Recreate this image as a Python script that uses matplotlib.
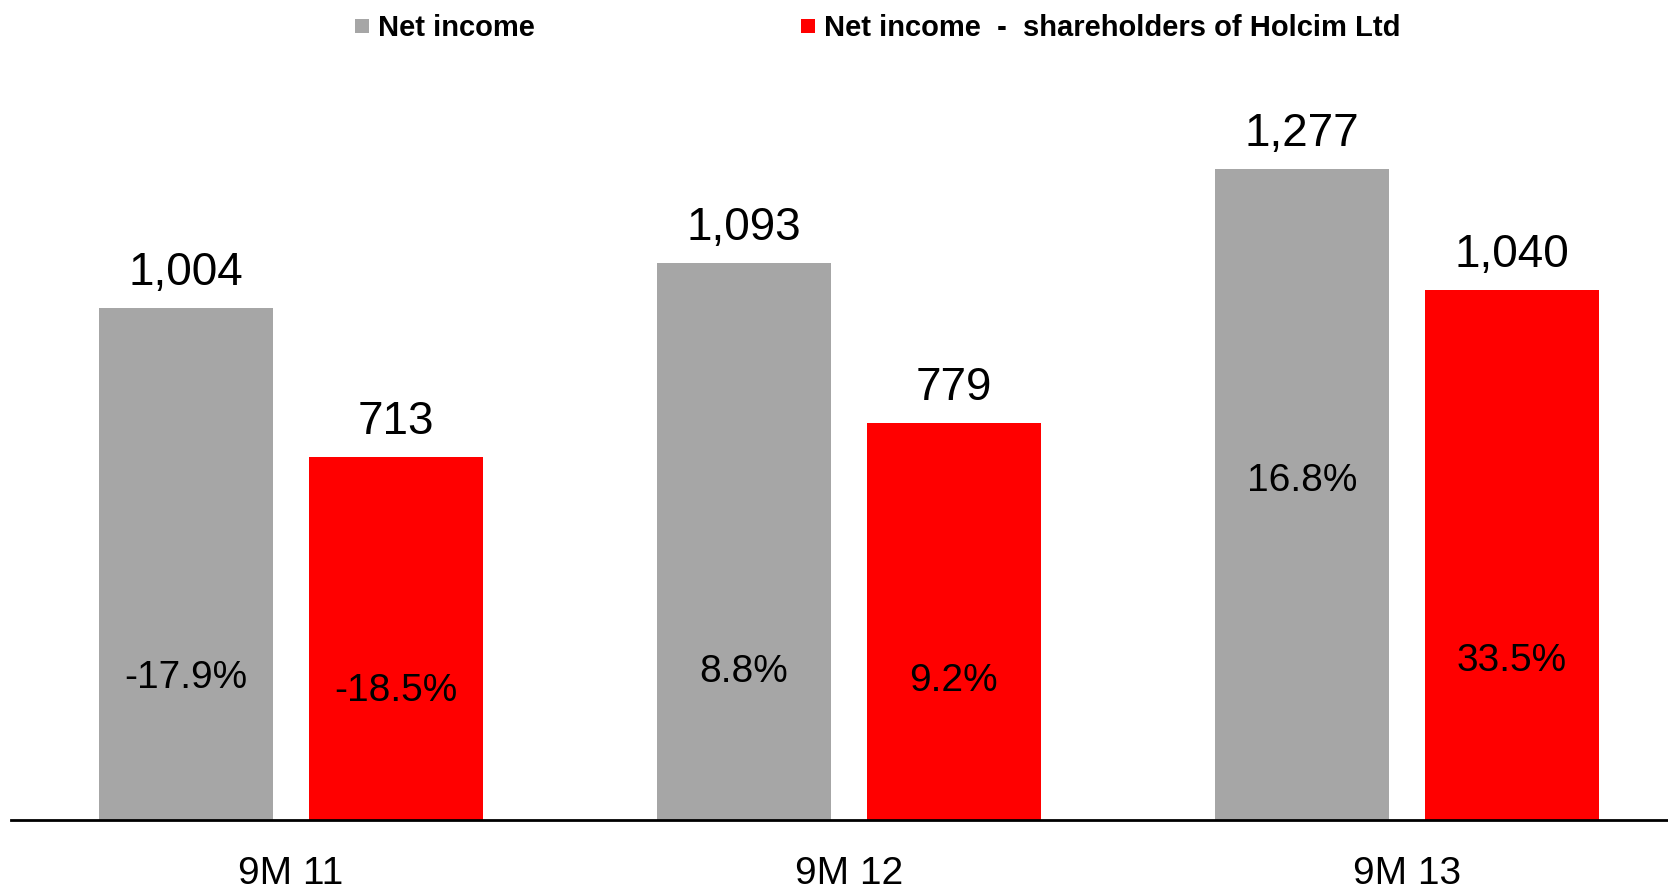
import numpy as np
import matplotlib.pyplot as plt
from matplotlib.lines import Line2D

plt.rcParams['font.family'] = ['Liberation Sans', 'DejaVu Sans']

# Data
periods = ["9M 11", "9M 12", "9M 13"]
net_income = [1004, 1093, 1277]
net_income_sh = [713, 779, 1040]
chg_net_income = ["-17.9%", "8.8%", "16.8%"]
chg_net_income_sh = ["-18.5%", "9.2%", "33.5%"]

# where the change labels sit inside the bars (data units)
chg_pos_gray = [278, 290, 664]
chg_pos_red = [253, 273, 312]

GRAY = "#A6A6A6"
RED = "#FF0000"


def main():
    fig = plt.figure(figsize=(16.68, 8.9), dpi=100)
    ax = fig.add_axes([11 / 1668, 70 / 890, 1 - 11 / 1668, 820 / 890])

    x = np.arange(len(periods))
    w = 0.312
    off = 0.188

    ax.bar(x - off, net_income, w, color=GRAY, zorder=2)
    ax.bar(x + off, net_income_sh, w, color=RED, zorder=2)

    for xi, v in zip(x - off, net_income):
        ax.annotate(f"{v:,}", (xi, v), xytext=(0, 16.5), textcoords="offset points",
                    ha="center", va="baseline", fontsize=33)
    for xi, v in zip(x + off, net_income_sh):
        ax.annotate(f"{v:,}", (xi, v), xytext=(0, 16.5), textcoords="offset points",
                    ha="center", va="baseline", fontsize=33)

    for xi, y, s in zip(x - off, chg_pos_gray, chg_net_income):
        ax.text(xi, y, s, ha="center", va="center", fontsize=28)
    for xi, y, s in zip(x + off, chg_pos_red, chg_net_income_sh):
        ax.text(xi, y, s, ha="center", va="center", fontsize=28)

    ax.set_xlim(-0.502, 2.468)
    ax.set_ylim(0, 1608.5)
    ax.set_xticks(x)
    ax.set_xticklabels(periods, fontsize=28)
    ax.tick_params(axis="x", length=0, pad=26)
    ax.set_yticks([])
    for s in ["top", "right", "left"]:
        ax.spines[s].set_visible(False)
    ax.spines["bottom"].set_linewidth(2)
    ax.spines["bottom"].set_zorder(3)

    handles = [
        Line2D([], [], marker="s", linestyle="none", markersize=10.5,
               markerfacecolor=GRAY, markeredgewidth=0),
        Line2D([], [], marker="s", linestyle="none", markersize=10.5,
               markerfacecolor=RED, markeredgewidth=0),
    ]
    labels = ["Net income", "Net income  -  shareholders of Holcim Ltd"]
    fig.legend(handles, labels, loc="center left",
               bbox_to_anchor=(355 / 1668, 1 - 28 / 890), ncol=2, frameon=False,
               prop={"size": 21, "weight": "bold"}, handlelength=0.5,
               handletextpad=0.3, columnspacing=9.1, borderpad=0,
               borderaxespad=0)

    fig.savefig("out.png", dpi=100)


if __name__ == "__main__":
    main()
